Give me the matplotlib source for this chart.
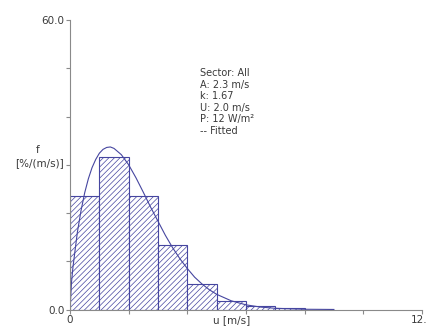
import matplotlib
matplotlib.use('Agg')
from matplotlib import pyplot as plt
import numpy as np

# histogram bins (m/s) and frequencies (%/(m/s))
bin_left = [0, 1, 2, 3, 4, 5, 6, 7]
freq = [23.5, 31.6, 23.5, 13.3, 5.3, 1.8, 0.8, 0.25]

# fitted curve
u_fit = [0, 0.05, 0.1, 0.25, 0.375, 0.5, 0.625, 0.75, 0.875, 1.0, 1.125,
         1.25, 1.375, 1.5, 1.75, 2.0, 2.25, 2.5, 2.75, 3.0, 3.25, 3.5, 3.75,
         4.0, 4.25, 4.5, 4.75, 5.0, 5.5, 6.0, 6.5, 7.0, 8.0, 9.0]
f_fit = [0, 5.6, 8.8, 16.0, 20.5, 24.2, 27.1, 29.4, 31.1, 32.4, 33.2,
         33.6, 33.7, 33.4, 32.1, 30.0, 27.3, 24.3, 21.2, 18.3, 15.4, 12.8,
         10.5, 8.5, 6.7, 5.3, 4.1, 3.15, 1.8, 0.97, 0.5, 0.25, 0.05, 0.01]

info = ['Sector: All', 'A: 2.3 m/s', 'k: 1.67', 'U: 2.0 m/s',
        'P: 12 W/m\u00b2', '-- Fitted']

blue = '#4646a0'
grey = '#8a8a8a'
txt = '#3a3a3a'

plt.rcParams['hatch.linewidth'] = 0.5
plt.rcParams['hatch.color'] = '#5a5aaa'

fig = plt.figure(figsize=(4.27, 3.27), dpi=100)
ax = fig.add_axes([0.164, 0.0535, 0.824, 0.885])

ax.bar(bin_left, freq, width=1.0, align='edge', facecolor='white',
       edgecolor=blue, linewidth=0.8, hatch='//////')
ax.plot(u_fit, f_fit, color=blue, lw=0.8)

ax.set_xlim(0, 12)
ax.set_ylim(0, 60)
ax.set_xticks(np.arange(0, 13, 2))
ax.set_xticklabels(['0', '', '', '', '', '', '12.0'])
ax.set_yticks(np.arange(0, 61, 10))
ax.set_yticklabels(['0.0', '', '', '', '', '', '60.0'])
ax.tick_params(length=3, width=0.8, color=grey, labelcolor=txt,
               labelsize=7.5, pad=1)

for s in ['top', 'right']:
    ax.spines[s].set_visible(False)
for s in ['left', 'bottom']:
    ax.spines[s].set_color(grey)
    ax.spines[s].set_linewidth(0.8)

ax.text(5.5, -1.2, 'u [m/s]', ha='center', va='top', fontsize=7.5, color=txt)
fig.text(38 / 427, 1 - 150 / 327, 'f', ha='center', va='center',
         fontsize=7.5, color=txt)
fig.text(39 / 427, 1 - 163 / 327, '[%/(m/s)]', ha='center', va='center',
         fontsize=7.5, color=txt)

for i, t in enumerate(info):
    fig.text(200 / 427, 1 - (73 + i * 11.6) / 327, t, ha='left',
             va='center', fontsize=7, color=txt)

plt.savefig('out.png', dpi=100)
